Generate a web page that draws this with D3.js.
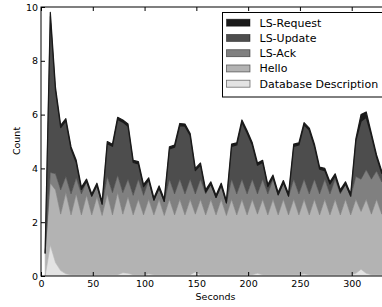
<!DOCTYPE html>
<html>

<head>
    <title>OSPF packets</title>
    <script type="text/javascript" src="https://d3js.org/d3.v7.min.js"></script>
    <style>
        body { margin: 0; background: #fff; }
        text { font-family: "DejaVu Sans", sans-serif; }
    </style>
</head>

<body>
    <div id="chart"></div>
</body>

<script type="text/javascript">
    // sample times (seconds)
    var seconds = [4, 9, 14, 19, 24, 29, 34, 39, 44, 49, 54, 59, 64, 69, 74, 79, 84, 89, 94, 99,
        104, 109, 114, 119, 124, 129, 134, 139, 144, 149, 154, 159, 164, 169, 174, 179, 184, 189, 194, 199,
        204, 209, 214, 219, 224, 229, 234, 239, 244, 249, 254, 259, 264, 269, 274, 279, 284, 289, 294, 299,
        304, 309, 314, 319, 324, 329, 334];

    // packet counts per type, bottom layer first
    var dbDescription = [0, 1.15, 0.5, 0.2, 0.08, 0.05, 0.05, 0.05, 0.05, 0.05, 0.05, 0.05, 0.05, 0.05, 0.05, 0.12, 0.1, 0.05, 0.05, 0.05,
        0.08, 0.05, 0.05, 0.05, 0.05, 0.05, 0.05, 0.05, 0.05, 0.15, 0.05, 0.05, 0.05, 0.05, 0.05, 0.05, 0.05, 0.05, 0.05, 0.05,
        0.05, 0.1, 0.05, 0.05, 0.05, 0.05, 0.05, 0.05, 0.05, 0.05, 0.08, 0.05, 0.05, 0.05, 0.05, 0.05, 0.05, 0.05, 0.05, 0.05,
        0.1, 0.25, 0.1, 0.05, 0.05, 0.05, 0.05];
    var hello = [0.85, 2.3, 2.7, 2.1, 3.02, 2.22, 3.0, 2.22, 2.95, 2.22, 2.9, 2.2, 3.0, 2.22, 3.05, 2.18, 2.85, 2.22, 2.8, 2.22,
        2.77, 2.22, 2.8, 2.2, 2.8, 2.22, 2.8, 2.22, 2.8, 2.15, 2.8, 2.22, 2.8, 2.22, 2.8, 2.2, 2.8, 2.22, 2.8, 2.22,
        2.8, 2.2, 2.8, 2.22, 2.8, 2.22, 2.8, 2.22, 2.8, 2.22, 2.77, 2.22, 2.8, 2.22, 2.8, 2.22, 2.8, 2.22, 2.8, 2.22,
        2.75, 2.15, 2.75, 2.25, 2.8, 2.25, 2.8];
    var lsAck = [0, 0.4, 0.6, 0.9, 0.6, 0.78, 0.6, 0.78, 0.5, 0.68, 0.4, 0.4, 0.65, 0.83, 0.65, 0.8, 0.65, 0.73, 0.75, 0.73,
        0.7, 0.53, 0.4, 0.5, 0.75, 0.78, 0.75, 0.78, 0.75, 0.75, 0.75, 0.78, 0.55, 0.63, 0.5, 0.45, 0.75, 0.78, 0.75, 0.78,
        0.75, 0.75, 0.75, 0.78, 0.75, 0.73, 0.6, 0.68, 0.75, 0.78, 0.75, 0.78, 0.75, 0.78, 0.75, 0.78, 0.75, 0.78, 0.55, 0.68,
        0.85, 1.2, 1.1, 1.3, 1.05, 1.2, 0.9];
    var lsUpdate = [0, 5.8, 3.1, 2.32, 2.07, 1.67, 0.57, 0.17, 0.02, 0.02, 0.02, 0.02, 1.22, 1.72, 2.07, 2.62, 1.97, 1.22, 0.57, 0.32,
        0.02, 0.02, 0.02, 0.02, 1.12, 1.74, 1.99, 2.52, 1.62, 0.87, 0.52, 0.07, 0.02, 0.02, 0.02, 0.02, 1.22, 1.82, 2.12, 2.27,
        1.27, 1.07, 0.62, 0.27, 0.07, 0.02, 0.02, 0.02, 1.22, 1.82, 2.02, 2.37, 1.22, 0.92, 0.32, 0.37, 0.12, 0.07, 0.02, 0.02,
        1.32, 2.15, 1.95, 1.62, 0.52, 0.32, 0.3];
    var lsRequest = [0.05, 0.15, 0.1, 0.08, 0.08, 0.08, 0.08, 0.08, 0.08, 0.08, 0.08, 0.08, 0.08, 0.08, 0.08, 0.08, 0.08, 0.08, 0.08, 0.08,
        0.08, 0.08, 0.08, 0.08, 0.08, 0.08, 0.08, 0.08, 0.08, 0.08, 0.08, 0.08, 0.08, 0.08, 0.08, 0.08, 0.08, 0.08, 0.08, 0.08,
        0.08, 0.08, 0.08, 0.08, 0.08, 0.08, 0.08, 0.08, 0.08, 0.08, 0.08, 0.08, 0.08, 0.08, 0.08, 0.08, 0.08, 0.08, 0.08, 0.08,
        0.08, 0.25, 0.2, 0.08, 0.08, 0.08, 0.08];

    var keys = ["Database Description", "Hello", "LS-Ack", "LS-Update", "LS-Request"];
    var colors = ["#e3e3e3", "#b3b3b3", "#808080", "#4d4d4d", "#1a1a1a"];
    var xTicks = [0, 50, 100, 150, 200, 250, 300];
    var yTicks = [0, 2, 4, 6, 8, 10];

    var width = 382;
    var height = 307;
    var plotLeft = 41, plotTop = 7, plotRight = 389, plotBottom = 276;

    // build rows for d3.stack
    var rows = seconds.map(function (s, i) {
        return {
            t: s,
            "Database Description": dbDescription[i],
            "Hello": hello[i],
            "LS-Ack": lsAck[i],
            "LS-Update": lsUpdate[i],
            "LS-Request": lsRequest[i]
        };
    });

    var svg = d3.select("#chart")
        .append("svg")
        .attr("width", width)
        .attr("height", height);

    var x_scale = d3.scaleLinear().domain([0, 336]).range([plotLeft, plotRight]);
    var y_scale = d3.scaleLinear().domain([0, 10]).range([plotBottom, plotTop]);

    svg.append("clipPath").attr("id", "plot")
        .append("rect")
        .attr("x", plotLeft).attr("y", plotTop)
        .attr("width", plotRight - plotLeft).attr("height", plotBottom - plotTop);

    var series = d3.stack().keys(keys)(rows);

    var area = d3.area()
        .x(function (d) { return x_scale(d.data.t); })
        .y0(function (d) { return y_scale(d[0]); })
        .y1(function (d) { return y_scale(d[1]); });

    svg.append("g")
        .attr("clip-path", "url(#plot)")
        .selectAll("path")
        .data(series)
        .enter()
        .append("path")
        .attr("d", area)
        .style("fill", function (d, i) { return colors[i]; })
        .style("stroke", function (d, i) { return colors[i]; })
        .style("stroke-width", function (d, i) { return i == 4 ? 1.2 : 0.6; })
        .style("stroke-linejoin", "round");

    // axes, ticks inward like matplotlib
    svg.append("g")
        .attr("transform", "translate(0," + plotBottom + ")")
        .call(d3.axisBottom(x_scale).tickValues(xTicks).tickSize(-4).tickPadding(4));

    svg.append("g")
        .attr("transform", "translate(0," + plotTop + ")")
        .call(d3.axisTop(x_scale).tickValues(xTicks).tickSize(-4).tickFormat(""));

    svg.append("g")
        .attr("transform", "translate(" + plotLeft + ",0)")
        .call(d3.axisLeft(y_scale).tickValues(yTicks).tickSize(-4).tickPadding(3));

    svg.selectAll(".domain").remove();
    svg.selectAll(".tick line").attr("stroke", "#000");
    svg.selectAll(".tick text").attr("font-size", 9.5).attr("fill", "#000")
        .style("font-family", "DejaVu Sans");

    // frame
    svg.append("rect")
        .attr("x", plotLeft).attr("y", plotTop)
        .attr("width", plotRight - plotLeft).attr("height", plotBottom - plotTop)
        .style("fill", "none").style("stroke", "#000").style("stroke-width", 1);

    svg.append("text")
        .attr("x", 215.5).attr("y", 300)
        .attr("text-anchor", "middle")
        .attr("font-size", 9.5)
        .text("Seconds");

    svg.append("text")
        .attr("transform", "translate(20,141) rotate(-90)")
        .attr("text-anchor", "middle")
        .attr("font-size", 9.5)
        .text("Count");

    // legend, top layer listed first
    var legend = svg.append("g");
    legend.append("rect")
        .attr("x", 222.5).attr("y", 12.5)
        .attr("width", 180).attr("height", 84.5)
        .style("fill", "#fff").style("stroke", "#000").style("stroke-width", 1);

    var items = keys.slice().reverse();
    var itemColors = colors.slice().reverse();
    items.forEach(function (k, i) {
        var cy = 22.7 + i * 15.25;
        legend.append("rect")
            .attr("x", 226.5).attr("y", cy - 3.5)
            .attr("width", 23.5).attr("height", 7)
            .style("fill", itemColors[i])
            .style("stroke", "#000").style("stroke-opacity", 0.55).style("stroke-width", 0.8);
        legend.append("text")
            .attr("x", 259.5).attr("y", cy + 4)
            .attr("font-size", 11)
            .text(k);
    });
</script>

</html>
